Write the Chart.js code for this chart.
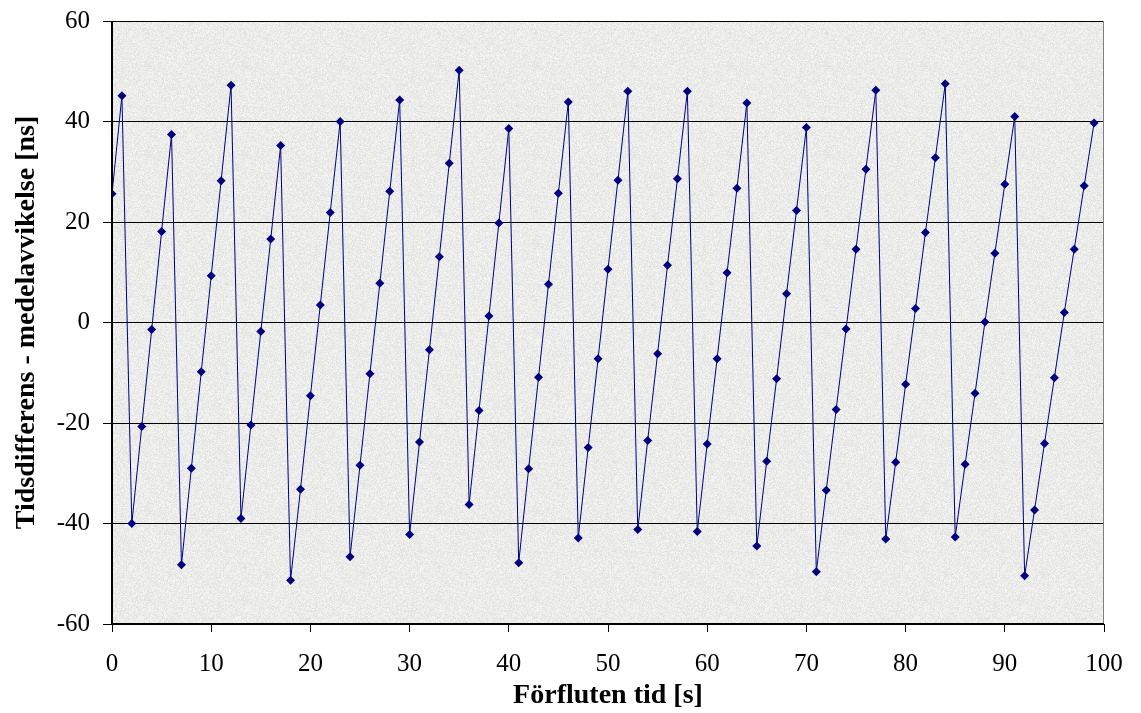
<!DOCTYPE html>
<html lang="sv">
<head>
    <meta charset="UTF-8">
    <title>Tidsdifferens - medelavvikelse</title>
    <style>
        body {
            margin: 0;
            background-color: #ffffff;
        }
        #wrap {
            width: 1141px;
            height: 713px;
        }
    </style>
</head>
<body>
    <div id="wrap"><canvas id="chart" width="1141" height="713"></canvas></div>

    <script src="https://cdn.jsdelivr.net/npm/chart.js"></script>
    <script>
        // Förfluten tid [s]
        const times = [
            0, 1, 2, 3, 4, 5, 6, 7, 8, 9,
            10, 11, 12, 13, 14, 15, 16, 17, 18, 19,
            20, 21, 22, 23, 24, 25, 26, 27, 28, 29,
            30, 31, 32, 33, 34, 35, 36, 37, 38, 39,
            40, 41, 42, 43, 44, 45, 46, 47, 48, 49,
            50, 51, 52, 53, 54, 55, 56, 57, 58, 59,
            60, 61, 62, 63, 64, 65, 66, 67, 68, 69,
            70, 71, 72, 73, 74, 75, 76, 77, 78, 79,
            80, 81, 82, 83, 84, 85, 86, 87, 88, 89,
            90, 91, 92, 93, 94, 95, 96, 97, 98, 99
        ];

        // Tidsdifferens - medelavvikelse [ns]
        const deviation = [
            25.6, 45.1, -40.0, -20.7, -1.4, 18.1, 37.4, -48.2, -29.0, -9.8,
            9.3, 28.2, 47.2, -39.0, -20.4, -1.8, 16.6, 35.2, -51.3, -33.2,
            -14.6, 3.5, 21.9, 40.0, -46.6, -28.4, -10.2, 7.8, 26.1, 44.3,
            -42.2, -23.8, -5.4, 13.1, 31.7, 50.2, -36.2, -17.5, 1.3, 19.8,
            38.6, -47.8, -29.1, -10.9, 7.6, 25.7, 43.9, -42.9, -24.9, -7.2,
            10.6, 28.3, 46.0, -41.2, -23.5, -6.2, 11.4, 28.6, 46.0, -41.6,
            -24.2, -7.2, 9.9, 26.7, 43.7, -44.5, -27.6, -11.2, 5.7, 22.3,
            38.8, -49.6, -33.4, -17.3, -1.3, 14.6, 30.5, 46.2, -43.1, -27.8,
            -12.3, 2.8, 17.9, 32.8, 47.5, -42.7, -28.2, -14.1, 0.1, 13.8,
            27.5, 41.0, -50.4, -37.3, -24.1, -11.0, 2.0, 14.6, 27.2, 39.7
        ];

        const xTicks = [0, 10, 20, 30, 40, 50, 60, 70, 80, 90, 100];
        const yTicks = [-60, -40, -20, 0, 20, 40, 60];

        const points = times.map((t, i) => ({ x: t, y: deviation[i] }));

        // speckled grey fill like the old spreadsheet "granite" texture
        function makeTexture() {
            const c = document.createElement('canvas');
            c.width = 97;
            c.height = 89;
            const g = c.getContext('2d');
            const img = g.createImageData(c.width, c.height);
            for (let y = 0; y < c.height; y++) {
                for (let x = 0; x < c.width; x++) {
                    let h = (x * 374761393 + y * 668265263) | 0;
                    h = Math.imul(h ^ (h >>> 13), 1274126177);
                    h = (h ^ (h >>> 16)) >>> 0;
                    const v = 246 - (h % 22);
                    const k = (y * c.width + x) * 4;
                    img.data[k] = v;
                    img.data[k + 1] = v;
                    img.data[k + 2] = v - 1;
                    img.data[k + 3] = 255;
                }
            }
            g.putImageData(img, 0, 0);
            return c;
        }

        const plotArea = {
            id: 'plotArea',
            beforeDraw(chart) {
                const { ctx, chartArea: a } = chart;
                ctx.save();
                ctx.fillStyle = ctx.createPattern(makeTexture(), 'repeat');
                ctx.fillRect(a.left, a.top, a.right - a.left, a.bottom - a.top);
                ctx.restore();
            },
            afterDatasetsDraw(chart) {
                const { ctx, chartArea: a } = chart;
                ctx.save();
                ctx.strokeStyle = '#808080';
                ctx.lineWidth = 1;
                ctx.beginPath();
                ctx.moveTo(a.right - 0.5, a.top);
                ctx.lineTo(a.right - 0.5, a.bottom);
                ctx.stroke();
                ctx.strokeStyle = '#000000';
                ctx.lineWidth = 2;
                ctx.beginPath();
                ctx.moveTo(a.left, a.top);
                ctx.lineTo(a.left, a.bottom);
                ctx.lineTo(a.right, a.bottom);
                ctx.stroke();
                ctx.restore();
            }
        };

        const family = '"Liberation Serif", "Times New Roman", serif';
        const tickFont = { family: family, size: 25 };
        const titleFont = { family: family, size: 28, weight: 'bold' };

        new Chart(document.getElementById('chart'), {
            type: 'line',
            data: {
                datasets: [{
                    data: points,
                    borderColor: '#000080',
                    backgroundColor: '#000080',
                    borderWidth: 1,
                    pointStyle: 'rectRot',
                    pointRadius: 4.5,
                    pointBorderWidth: 0,
                    tension: 0
                }]
            },
            options: {
                responsive: false,
                animation: false,
                layout: { padding: { top: 21, right: 37, left: 0, bottom: 0 } },
                plugins: {
                    legend: { display: false },
                    tooltip: { enabled: false }
                },
                scales: {
                    x: {
                        type: 'linear',
                        min: 0,
                        max: 100,
                        afterBuildTicks: (s) => { s.ticks = xTicks.map(v => ({ value: v })); },
                        afterFit: (s) => { s.height = 89; },
                        grid: { drawOnChartArea: false, color: '#000', tickLength: 8 },
                        border: { display: false },
                        ticks: { color: '#000', font: tickFont, padding: 17, maxRotation: 0 },
                        title: {
                            display: true,
                            text: 'Förfluten tid [s]',
                            color: '#000',
                            font: titleFont,
                            padding: { top: 0, bottom: 0 }
                        }
                    },
                    y: {
                        min: -60,
                        max: 60,
                        afterBuildTicks: (s) => { s.ticks = yTicks.map(v => ({ value: v })); },
                        afterFit: (s) => {
                            s.width = 112;
                            s.paddingTop = 0;
                            s.paddingBottom = 0;
                        },
                        grid: { color: '#000', lineWidth: 1, tickLength: 9 },
                        border: { display: false },
                        ticks: { color: '#000', font: tickFont, padding: 13 },
                        title: {
                            display: true,
                            text: 'Tidsdifferens - medelavvikelse [ns]',
                            color: '#000',
                            font: titleFont,
                            padding: { top: 10, bottom: 0 }
                        }
                    }
                }
            },
            plugins: [plotArea]
        });
    </script>
</body>
</html>
